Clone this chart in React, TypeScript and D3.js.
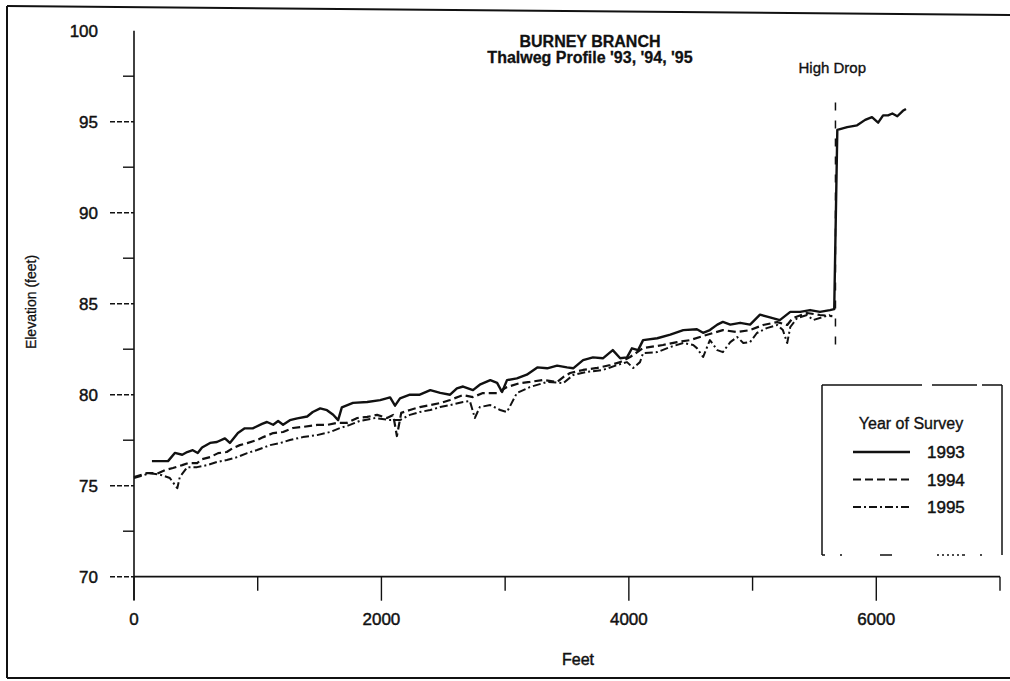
import React from "react";
import * as d3 from "d3";

// ---- data ----
const feet1993 = [145,275,330,390,430,475,515,550,615,670,735,775,840,895,960,1035,1075,1125,1165,1205,1260,1320,1400,1445,1505,1560,1610,1650,1680,1770,1885,1990,2070,2110,2150,2230,2310,2395,2475,2555,2610,2660,2740,2795,2880,2935,2975,3015,3095,3175,3260,3340,3420,3500,3550,3630,3710,3790,3870,3930,3985,4025,4075,4115,4230,4335,4440,4550,4600,4655,4715,4760,4820,4900,4980,5060,5140,5220,5305,5385,5465,5545,5625,5660,5685,5765,5845,5910,5965,6015,6055,6095,6130,6170,6215,6240];
const elev1993 = [76.35,76.35,76.8,76.7,76.85,76.95,76.8,77.1,77.35,77.4,77.6,77.35,77.9,78.15,78.15,78.4,78.5,78.35,78.55,78.35,78.6,78.7,78.8,79.05,79.25,79.15,78.9,78.6,79.3,79.55,79.6,79.7,79.85,79.4,79.8,80.0,80.0,80.25,80.1,80.0,80.35,80.45,80.25,80.55,80.8,80.65,80.15,80.8,80.9,81.1,81.5,81.45,81.6,81.5,81.45,81.9,82.05,82.0,82.45,82.0,82.05,82.55,82.45,83.0,83.1,83.3,83.55,83.6,83.4,83.55,83.85,84.0,83.85,83.95,83.85,84.4,84.25,84.1,84.55,84.55,84.65,84.55,84.65,84.7,94.55,94.7,94.8,95.1,95.25,94.95,95.35,95.35,95.45,95.3,95.6,95.7];

const feet1994 = [0,105,195,250,315,390,435,510,550,615,680,750,800,855,915,995,1045,1125,1205,1285,1365,1480,1560,1640,1720,1805,1885,1965,2045,2095,2125,2160,2230,2310,2395,2475,2555,2660,2740,2820,2935,3015,3120,3200,3305,3420,3470,3525,3630,3745,3850,3930,4010,4115,4275,4390,4495,4575,4680,4760,4875,4980,5085,5200,5280,5325,5440,5545,5645];
const elev1994 = [75.47,75.69,75.69,75.86,75.97,76.13,76.24,76.24,76.46,76.57,76.79,76.85,77.07,77.23,77.34,77.51,77.67,77.89,77.95,78.17,78.23,78.34,78.34,78.45,78.45,78.72,78.78,78.89,78.72,78.89,77.73,79.0,79.16,79.32,79.43,79.54,79.71,79.98,79.87,80.09,80.09,80.42,80.64,80.7,80.81,80.7,80.97,81.19,81.36,81.47,81.63,81.79,82.07,82.56,82.73,82.89,83.0,83.17,83.39,83.55,83.44,83.55,83.83,83.99,83.83,84.21,84.49,84.38,84.32];

const feet1995 = [0,130,225,290,350,370,430,510,590,670,750,835,915,995,1100,1180,1260,1365,1480,1585,1665,1745,1825,1950,2070,2150,2230,2310,2395,2475,2555,2660,2715,2755,2795,2880,2960,3015,3095,3200,3340,3470,3550,3660,3790,3905,3985,4035,4090,4115,4230,4335,4440,4520,4550,4600,4655,4715,4760,4820,4875,4925,4980,5035,5115,5200,5245,5280,5305,5360,5440,5490,5570,5625];
const elev1995 = [75.42,75.69,75.58,75.42,74.86,75.47,76.02,76.02,76.13,76.3,76.41,76.57,76.79,76.96,77.23,77.34,77.51,77.67,77.78,77.95,78.17,78.34,78.56,78.72,78.61,78.61,78.89,79.05,79.16,79.32,79.43,79.6,79.65,78.72,79.32,79.43,79.16,79.05,80.09,80.42,80.7,80.64,81.08,81.25,81.36,81.63,81.79,81.47,81.79,82.29,82.34,82.62,82.84,82.73,82.56,82.07,83.0,82.45,82.34,82.89,83.17,82.84,82.89,83.39,83.66,83.83,83.55,82.84,83.72,84.21,84.38,84.1,84.27,84.38];

const xTicks = [0, 1000, 2000, 3000, 4000, 5000, 6000, 7000];
const xTickLabels = ["0", "2000", "4000", "6000"];
const yTicks = [70, 72.5, 75, 77.5, 80, 82.5, 85, 87.5, 90, 92.5, 95, 97.5];
const yTickLabels = ["70", "75", "80", "85", "90", "95", "100"];
const seriesNames = ["1993", "1994", "1995"];
const highDropFeet = 5670;
const highDropRange = [82.3, 96.05];

const FONT = "'Liberation Sans', Arial, sans-serif";
const INK = "#111";

export default function App() {
  const x = d3.scaleLinear().domain([0, 7000]).range([134, 1000]);
  const y = d3.scaleLinear().domain([70, 100]).range([576.7, 30.7]);

  const mk = (f: number[], e: number[]) =>
    d3.line<number>().x((_, i) => x(f[i])).y((_, i) => y(e[i]))(f) || "";

  const series = [
    { name: seriesNames[0], d: mk(feet1993, elev1993), dash: undefined, w: 2.4 },
    { name: seriesNames[1], d: mk(feet1994, elev1994), dash: "8 4", w: 2.2 },
    { name: seriesNames[2], d: mk(feet1995, elev1995), dash: "8 3 2 3", w: 2.0 },
  ];

  const y0 = y(70);
  const x0 = x(0);
  const txt = { fill: INK, stroke: INK, strokeWidth: 0.45 };

  return (
    <svg width={1010} height={681} style={{ position: "absolute", left: 0, top: 0, background: "#fff" }}
      fontFamily={FONT}>
      <rect x={0} y={0} width={1010} height={681} fill="#fff" />
      {/* scanned frame */}
      <path d="M7,6 L1010,15" stroke={INK} strokeWidth={2} fill="none" />
      <path d="M7,6 L7,678" stroke={INK} strokeWidth={2} fill="none" />
      <path d="M7,678 L1010,678" stroke={INK} strokeWidth={2} fill="none" />

      {/* title */}
      <text x={590} y={47} textAnchor="middle" fontWeight="bold" fontSize={16} {...txt} strokeWidth={0.3}>BURNEY BRANCH</text>
      <text x={590} y={63} textAnchor="middle" fontWeight="bold" fontSize={16} {...txt} strokeWidth={0.3}>Thalweg Profile '93, '94, '95</text>

      {/* y axis */}
      <line x1={x0} x2={x0} y1={y(100)} y2={600} stroke={INK} strokeWidth={1.6} />
      {yTicks.map((t) => {
        const major = t % 5 === 0;
        return (
          <line key={t} x1={t === 70 ? 110 : major ? x0 - 24 : x0 - 11} x2={x0} y1={y(t)} y2={y(t)}
            stroke={INK} strokeWidth={1.4} strokeDasharray={major ? "5 2" : undefined} />
        );
      })}
      {yTickLabels.map((t) => (
        <text key={t} x={98} y={y(+t)} dy="0.36em" textAnchor="end" fontSize={17} {...txt}>{t}</text>
      ))}
      <text transform={`translate(36,302) rotate(-90)`} textAnchor="middle" fontSize={14} {...txt} strokeWidth={0.3}>Elevation (feet)</text>

      {/* x axis */}
      <line x1={x0} x2={x(7000)} y1={y0} y2={y0} stroke={INK} strokeWidth={1.8} />
      {xTicks.map((t) => {
        const major = t % 2000 === 0;
        return (
          <line key={t} x1={x(t)} x2={x(t)} y1={y0} y2={y0 + (major ? 24 : 14)} stroke={INK} strokeWidth={1.4} />
        );
      })}
      {xTickLabels.map((t) => (
        <text key={t} x={x(+t)} y={619} dy="0.36em" textAnchor="middle" fontSize={17} {...txt}>{t}</text>
      ))}
      <text x={578} y={659} dy="0.36em" textAnchor="middle" fontSize={16} {...txt}>Feet</text>

      {/* high drop marker */}
      <line x1={x(highDropFeet)} x2={x(highDropFeet)} y1={y(highDropRange[1])} y2={y(highDropRange[0])}
        stroke={INK} strokeWidth={1.5} strokeDasharray="8 10" />
      <text x={866} y={68} dy="0.36em" textAnchor="end" fontSize={15} {...txt} strokeWidth={0.35}>High Drop</text>

      {/* series */}
      {series.map((s) => (
        <path key={s.name} d={s.d} fill="none" stroke={INK} strokeWidth={s.w}
          strokeDasharray={s.dash} strokeLinejoin="round" />
      ))}

      {/* legend */}
      <g>
        <rect x={822} y={385} width={180} height={170} fill="#fff" stroke="none" />
        <line x1={822} x2={822} y1={385} y2={555} stroke={INK} strokeWidth={1.5} />
        <line x1={1002} x2={1002} y1={385} y2={555} stroke={INK} strokeWidth={1.5} />
        <line x1={822} x2={1002} y1={385} y2={385} stroke={INK} strokeWidth={1.5} strokeDasharray="100 10 45 5 40" />
        <line x1={822} x2={1002} y1={555} y2={555} stroke={INK} strokeWidth={1.5} strokeDasharray="3 15 2 38 12 45 2 3 2 3 2 3 2 3 2 3" />
        <text x={911} y={423} dy="0.36em" textAnchor="middle" fontSize={16} {...txt} strokeWidth={0.35}>Year of Survey</text>
        {series.map((s, i) => {
          const ly = 452 + i * 27.5;
          return (
            <g key={s.name}>
              <line x1={853} x2={910} y1={ly} y2={ly} stroke={INK} strokeWidth={s.w} strokeDasharray={s.dash} />
              <text x={927} y={ly} dy="0.36em" fontSize={17} {...txt}>{s.name}</text>
            </g>
          );
        })}
      </g>
    </svg>
  );
}
